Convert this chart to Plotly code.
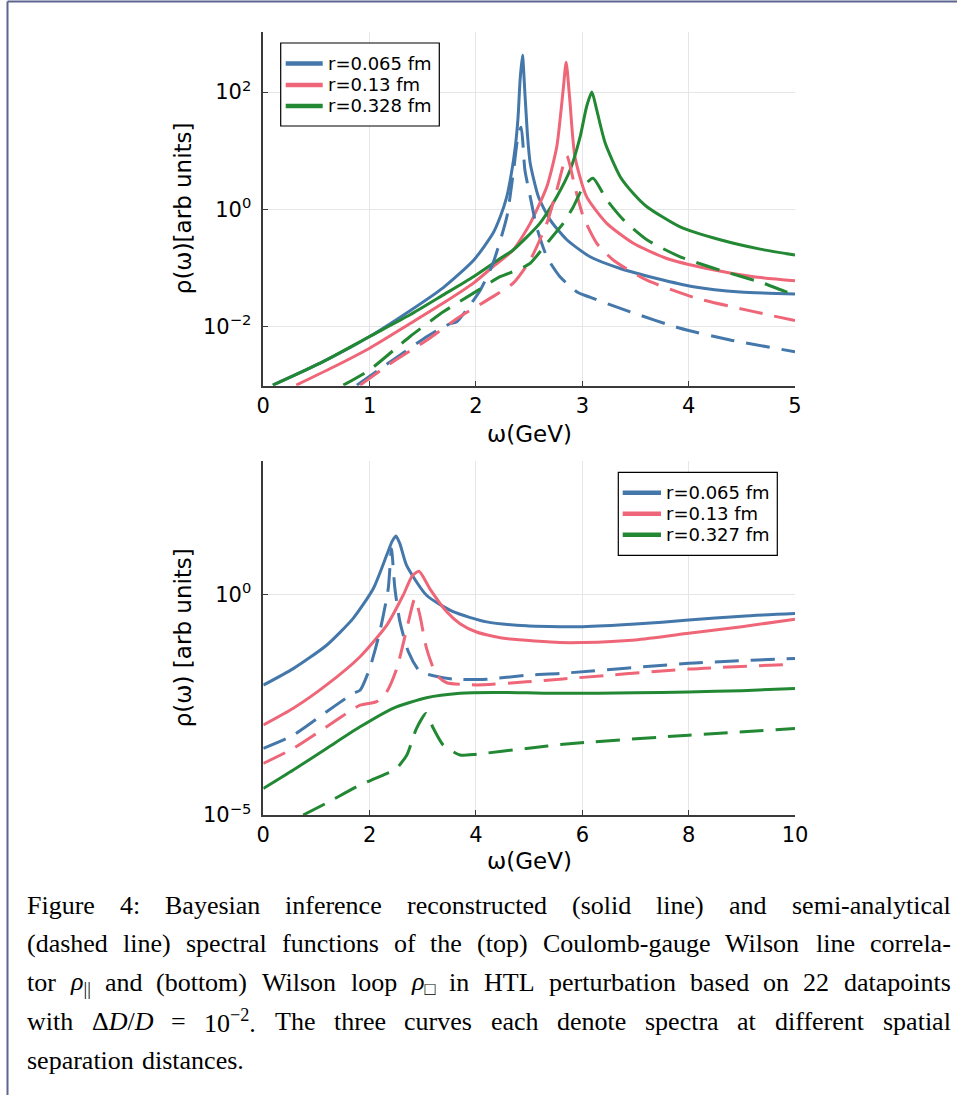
import re
import plotly.graph_objects as go

W, H = 957, 1095
BLUE, RED, GREEN = "#4477AA", "#EE6677", "#228833"

# ---------------- data (omega in GeV, log10 of rho) ----------------
# top panel: Coulomb-gauge Wilson line correlator
t_blue_solid_x = [0.09, 0.53, 1.0, 1.38, 1.69, 1.98, 2.16, 2.23, 2.29, 2.33, 2.37, 2.395, 2.415, 2.437, 2.462, 2.485, 2.51, 2.587, 2.697, 2.854, 3.073, 3.356, 3.70, 4.045, 4.485, 5.0]
t_blue_solid_ly = [-3.0, -2.63, -2.17, -1.73, -1.34, -0.865, -0.41, -0.12, 0.215, 0.58, 1.07, 1.55, 2.21, 2.63, 1.92, 1.25, 0.785, 0.215, -0.18, -0.52, -0.81, -1.01, -1.18, -1.32, -1.41, -1.445]

t_red_solid_x = [0.31, 0.65, 1.0, 1.38, 1.693, 1.976, 2.16, 2.35, 2.51, 2.666, 2.76, 2.82, 2.848, 2.88, 2.93, 3.04, 3.23, 3.48, 3.795, 4.17, 4.61, 5.0]
t_red_solid_ly = [-3.0, -2.7, -2.37, -1.95, -1.60, -1.26, -0.98, -0.695, -0.24, 0.385, 1.07, 2.04, 2.51, 1.92, 0.9, 0.215, -0.24, -0.58, -0.84, -1.01, -1.15, -1.22]

t_green_solid_x = [0.09, 0.53, 1.0, 1.38, 1.693, 1.976, 2.227, 2.35, 2.60, 2.76, 2.885, 2.98, 3.04, 3.09, 3.136, 3.215, 3.356, 3.48, 3.607, 3.92, 4.296, 4.673, 5.0]
t_green_solid_ly = [-3.0, -2.63, -2.17, -1.80, -1.46, -1.15, -0.84, -0.695, -0.24, 0.215, 0.67, 1.24, 1.75, 2.0, 1.69, 1.13, 0.556, 0.27, 0.044, -0.30, -0.52, -0.68, -0.78]

t_blue_dash_x = [0.88, 1.22, 1.54, 1.70, 1.76, 1.82, 1.91, 2.04, 2.16, 2.29, 2.35, 2.40, 2.425, 2.46, 2.51, 2.57, 2.666, 2.79, 2.95, 3.07, 3.45, 3.92, 4.39, 5.0]
t_blue_dash_ly = [-3.0, -2.57, -2.17, -2.0, -1.95, -1.92, -1.72, -1.38, -0.92, -0.13, 0.61, 1.30, 1.40, 0.67, 0.215, -0.30, -0.81, -1.15, -1.41, -1.50, -1.75, -2.03, -2.23, -2.43]

t_red_dash_x = [0.91, 1.22, 1.54, 1.85, 2.16, 2.35, 2.51, 2.666, 2.76, 2.854, 2.93, 3.01, 3.136, 3.29, 3.607, 4.077, 4.548, 5.0]
t_red_dash_ly = [-3.0, -2.6, -2.23, -1.83, -1.49, -1.26, -0.865, -0.24, 0.33, 0.91, 0.385, -0.13, -0.58, -0.865, -1.21, -1.52, -1.72, -1.90]

t_green_dash_x = [0.753, 1.0, 1.38, 1.693, 1.976, 2.227, 2.384, 2.51, 2.666, 2.82, 2.916, 3.01, 3.10, 3.23, 3.387, 3.607, 3.92, 4.296, 4.70, 4.92, 5.0]
t_green_dash_ly = [-3.0, -2.74, -2.17, -1.75, -1.43, -1.15, -1.04, -0.92, -0.58, -0.24, 0.044, 0.385, 0.53, 0.16, -0.18, -0.52, -0.81, -1.04, -1.26, -1.41, -1.44]

# bottom panel: Wilson loop
b_blue_solid_x = [0.0, 0.564, 1.19, 1.69, 2.07, 2.32, 2.42, 2.494, 2.57, 2.695, 3.07, 3.57, 4.2, 4.95, 5.58, 6.0, 7.0, 8.0, 9.0, 10.0]
b_blue_solid_ly = [-2.055, -1.68, -1.15, -0.54, 0.136, 0.89, 1.2, 1.33, 1.15, 0.66, -0.016, -0.39, -0.62, -0.71, -0.73, -0.73, -0.67, -0.58, -0.49, -0.43]

b_red_solid_x = [0.0, 0.564, 1.19, 1.82, 2.32, 2.63, 2.80, 2.93, 3.13, 3.45, 3.70, 4.01, 4.32, 4.64, 5.58, 6.0, 7.0, 8.0, 9.0, 10.0]
b_red_solid_ly = [-2.96, -2.58, -2.05, -1.41, -0.70, -0.016, 0.42, 0.53, 0.136, -0.39, -0.66, -0.85, -0.945, -1.01, -1.09, -1.09, -1.03, -0.88, -0.73, -0.56]

b_green_solid_x = [0.0, 0.564, 1.19, 1.82, 2.44, 3.07, 3.70, 4.32, 4.95, 5.58, 7.0, 8.0, 9.0, 10.0]
b_green_solid_ly = [-4.40, -3.98, -3.49, -3.0, -2.58, -2.34, -2.24, -2.22, -2.23, -2.24, -2.23, -2.21, -2.18, -2.13]

b_blue_dash_x = [0.0, 0.564, 1.19, 1.69, 1.82, 2.0, 2.19, 2.35, 2.41, 2.475, 2.57, 2.73, 2.945, 3.2, 3.57, 4.2, 4.95, 5.58, 8.0, 10.0]
b_blue_dash_ly = [-3.49, -3.19, -2.66, -2.24, -2.17, -1.68, -0.85, 0.136, 1.04, 0.136, -0.62, -1.30, -1.75, -1.84, -1.92, -1.92, -1.83, -1.79, -1.56, -1.45]

b_red_dash_x = [0.0, 0.564, 1.19, 1.82, 2.13, 2.32, 2.51, 2.70, 2.85, 2.945, 3.07, 3.26, 3.45, 4.01, 4.95, 5.58, 8.0, 10.0]
b_red_dash_ly = [-3.83, -3.49, -3.0, -2.51, -2.43, -2.21, -1.68, -0.77, -0.09, -0.47, -1.22, -1.83, -2.0, -2.05, -1.98, -1.92, -1.69, -1.58]

b_green_dash_x = [0.75, 1.19, 1.82, 2.32, 2.475, 2.70, 2.88, 3.06, 3.20, 3.38, 3.70, 4.01, 4.95, 5.70, 8.0, 10.0]
b_green_dash_ly = [-5.0, -4.73, -4.32, -4.06, -3.98, -3.64, -3.04, -2.70, -3.04, -3.41, -3.64, -3.62, -3.49, -3.39, -3.19, -3.04]

top_labels = ["r=0.065 fm", "r=0.13 fm", "r=0.328 fm"]
bot_labels = ["r=0.065 fm", "r=0.13 fm", "r=0.327 fm"]
top_xticks = [0, 1, 2, 3, 4, 5]
bot_xticks = [0, 2, 4, 6, 8, 10]
top_yticks = [1e-2, 1e0, 1e2]
top_yticktext = ["10<sup>−2</sup>", "10<sup>0</sup>", "10<sup>2</sup>"]
bot_yticks = [1e-5, 1e0]
bot_yticktext = ["10<sup>−5</sup>", "10<sup>0</sup>"]

caption_lines = [
    ["Figure", "4:", "Bayesian", "inference", "reconstructed", "(solid", "line)", "and", "semi-analytical"],
    ["(dashed", "line)", "spectral", "functions", "of", "the", "(top)", "Coulomb-gauge", "Wilson", "line", "correla-"],
    ["tor", "<i>ρ</i><sub>||</sub>", "and", "(bottom)", "Wilson", "loop", "<i>ρ</i><sub>□</sub>", "in", "HTL",
     "perturbation", "based", "on", "22", "datapoints"],
    ["with", "Δ<i>D</i>/<i>D</i>", "=", "10<sup>−2</sup>.", "The", "three", "curves", "each", "denote", "spectra",
     "at", "different", "spatial"],
    ["separation", "distances."],
]

# ---------------- helpers ----------------
def fx(p):
    return p / W

def fy(p):
    return 1 - p / H

def pw(v):
    return [10 ** a for a in v]

fig = go.Figure()

def add(xs, lys, color, dash, xa, ya):
    fig.add_trace(go.Scatter(
        x=xs, y=pw(lys), mode="lines", xaxis=xa, yaxis=ya, showlegend=False,
        line=dict(color=color, width=3, dash=dash, shape="spline", smoothing=0.6),
        hoverinfo="skip"))

DASH = "24px,12px"
add(t_blue_solid_x, t_blue_solid_ly, BLUE, "solid", "x", "y")
add(t_red_solid_x, t_red_solid_ly, RED, "solid", "x", "y")
add(t_green_solid_x, t_green_solid_ly, GREEN, "solid", "x", "y")
add(t_blue_dash_x, t_blue_dash_ly, BLUE, DASH, "x", "y")
add(t_red_dash_x, t_red_dash_ly, RED, DASH, "x", "y")
add(t_green_dash_x, t_green_dash_ly, GREEN, DASH, "x", "y")

add(b_blue_solid_x, b_blue_solid_ly, BLUE, "solid", "x2", "y2")
add(b_red_solid_x, b_red_solid_ly, RED, "solid", "x2", "y2")
add(b_green_solid_x, b_green_solid_ly, GREEN, "solid", "x2", "y2")
add(b_blue_dash_x, b_blue_dash_ly, BLUE, DASH, "x2", "y2")
add(b_red_dash_x, b_red_dash_ly, RED, DASH, "x2", "y2")
add(b_green_dash_x, b_green_dash_ly, GREEN, DASH, "x2", "y2")

# ---------------- axes ----------------
FONT = "DejaVu Sans"
AX = dict(showline=True, linecolor="#3a3a3a", linewidth=1.5, ticks="inside", ticklen=5,
          tickcolor="#3a3a3a", tickwidth=1.2, showgrid=True, gridcolor="#e6e6e6", gridwidth=1,
          zeroline=False, tickfont=dict(family=FONT, size=21, color="black"), automargin=False)

XL, XR = 263.3, 795.0
T_TOP, T_BOT = 31.7, 385.7
B_TOP, B_BOT = 460.5, 815.0

fig.update_layout(
    width=W, height=H, margin=dict(l=0, r=0, t=0, b=0),
    paper_bgcolor="white", plot_bgcolor="white",
    xaxis=dict(AX, domain=[fx(XL), fx(XR)], range=[0, 5], tickvals=top_xticks, anchor="y"),
    yaxis=dict(AX, domain=[fy(T_BOT), fy(T_TOP)], type="log", range=[-3.01, 3.03],
               tickvals=top_yticks, ticktext=top_yticktext, anchor="x", ticklabelstandoff=6),
    xaxis2=dict(AX, domain=[fx(XL), fx(XR)], range=[0, 10], tickvals=bot_xticks, anchor="y2"),
    yaxis2=dict(AX, domain=[fy(B_BOT), fy(B_TOP)], type="log", range=[-5.0, 3.04],
                tickvals=bot_yticks, ticktext=bot_yticktext, anchor="x2", ticklabelstandoff=6),
)

ann = []
shapes = []

def note(x, y, text, size, family=FONT, xanchor="center", angle=0):
    ann.append(dict(xref="paper", yref="paper", x=fx(x), y=fy(y), text=text, showarrow=False,
                    textangle=angle, font=dict(family=family, size=size, color="black"),
                    xanchor=xanchor, yanchor="middle"))

# axis titles
note((XL + XR) / 2, 434, "ω(GeV)", 23)
note((XL + XR) / 2, 861, "ω(GeV)", 23)
note(182.5, (T_TOP + T_BOT) / 2, "ρ(ω)[arb units]", 23, angle=-90)
note(182.5, (B_TOP + B_BOT) / 2, "ρ(ω) [arb units]", 23, angle=-90)

# legends (drawn by hand)
def legend(x0, x1, y0, y1, lx0, lx1, tx, ys, labels):
    shapes.append(dict(type="rect", xref="paper", yref="paper", x0=fx(x0), x1=fx(x1), y0=fy(y1), y1=fy(y0),
                       line=dict(color="black", width=1.2), fillcolor="white", layer="above"))
    for yy, col, lab in zip(ys, [BLUE, RED, GREEN], labels):
        shapes.append(dict(type="line", xref="paper", yref="paper", x0=fx(lx0), x1=fx(lx1),
                           y0=fy(yy), y1=fy(yy), line=dict(color=col, width=4.5), layer="above"))
        note(tx, yy, lab, 18, xanchor="left")

legend(280.7, 439.3, 43, 126, 285.7, 322.7, 325.5, [63.5, 85, 106], top_labels)
legend(618.3, 777.3, 472.3, 555.3, 622.7, 661, 663.5, [492.7, 513.7, 534.7], bot_labels)

# page border
BC = "#5c6690"
shapes.append(dict(type="line", xref="paper", yref="paper", x0=fx(7.5), x1=1, y0=fy(1.6), y1=fy(1.6),
                   line=dict(color=BC, width=2)))
shapes.append(dict(type="line", xref="paper", yref="paper", x0=fx(7.5), x1=fx(7.5), y0=fy(1.6), y1=0,
                   line=dict(color=BC, width=2)))

# caption (justified with Times-metric widths)
TW = {" ": 250, "a": 444, "b": 500, "c": 444, "d": 500, "e": 444, "f": 333, "g": 500, "h": 500, "i": 278,
      "j": 278, "k": 500, "l": 278, "m": 778, "n": 500, "o": 500, "p": 500, "q": 500, "r": 333, "s": 389,
      "t": 278, "u": 500, "v": 500, "w": 722, "x": 500, "y": 500, "z": 444, "A": 722, "B": 667, "C": 667,
      "D": 722, "E": 611, "F": 556, "G": 722, "H": 722, "I": 333, "L": 611, "M": 889, "N": 722, "O": 722,
      "P": 556, "R": 667, "S": 556, "T": 611, "W": 944, "(": 333, ")": 333, "-": 333, ".": 250, ",": 250,
      ":": 278, "/": 278, "=": 564, "Δ": 612, "ρ": 500, "|": 200, "□": 600, "−": 564}

def tok_width(html, size):
    total = 0.0
    scale = 1.0
    for part in re.split(r"(<[^>]+>)", html):
        if not part:
            continue
        if part.startswith("<"):
            if part in ("<sub>", "<sup>"):
                scale = 0.7
            elif part in ("</sub>", "</sup>"):
                scale = 1.0
            continue
        for ch in part:
            total += TW.get(ch, 500) * scale
    return total / 1000.0 * size

CAP_SIZE = 26
CAP_L, CAP_R = 25.0, 948.5
for i, words in enumerate(caption_lines):
    yc = 905 + 38.8 * i
    widths = [tok_width(w, CAP_SIZE) for w in words]
    if i < len(caption_lines) - 1:
        gap = (CAP_R - CAP_L - sum(widths)) / (len(words) - 1)
    else:
        gap = 0.3 * CAP_SIZE
    x = CAP_L
    for w, wd in zip(words, widths):
        note(x, yc, w, CAP_SIZE, family="Liberation Serif", xanchor="left")
        x += wd + gap

fig.update_layout(annotations=ann, shapes=shapes)
fig.write_html("out.html")
